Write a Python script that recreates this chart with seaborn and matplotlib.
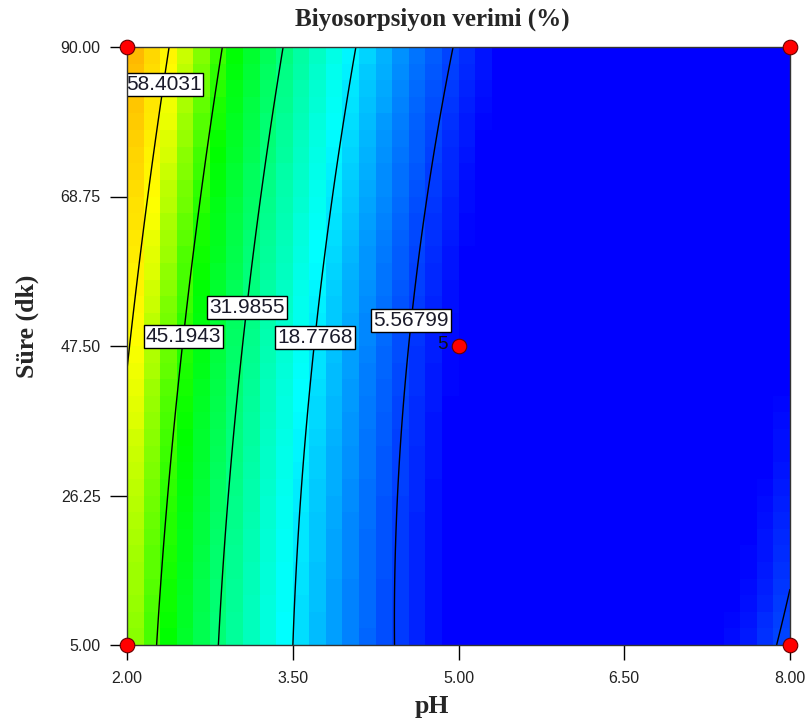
import numpy as np
import pandas as pd
import matplotlib
matplotlib.use("Agg")
import matplotlib.pyplot as plt
from matplotlib.colors import LinearSegmentedColormap
import seaborn as sns

# ---------------- data ----------------
title = "Biyosorpsiyon verimi (%)"
x_label = "pH"
y_label = "Süre (dk)"

ph_ticks = [2.00, 3.50, 5.00, 6.50, 8.00]
time_ticks = [5.00, 26.25, 47.50, 68.75, 90.00]

contour_levels = [5.56799, 18.7768, 31.9855, 45.1943, 58.4031]
# label anchor points (pH, time) for each contour label
label_ph = [4.53, 3.66, 3.07, 2.52, 2.37]
label_time = [51.2, 48.8, 53.0, 48.8, 84.6]

# Y = b0 + bx*pH + bt*t + bxt*pH*t + bxx*pH^2 + btt*t^2
model_terms = ["b0", "bx", "bt", "bxt", "bxx", "btt"]
model_coefs = [118.78, -40.093, 0.2026, -0.050165, 3.28, 0.001112]

# colour scale: response value at each colour stop
color_stop_values = [0.5, 20.0, 42.5, 57.0, 94.5]
color_stop_colors = ["#0000ff", "#00ffff", "#00ff00", "#ffff00", "#ff0000"]

# design points
design_ph = [2.0, 8.0, 2.0, 8.0, 5.0]
design_time = [90.0, 90.0, 5.0, 5.0, 47.5]
design_reps = [1, 1, 1, 1, 5]

# ---------------- style ----------------
sns.set_theme(style="white")
plt.rcParams["font.family"] = ["Liberation Sans", "DejaVu Sans"]

coef = dict(zip(model_terms, model_coefs))


def response(ph, t):
    return (coef["b0"] + coef["bx"] * ph + coef["bt"] * t + coef["bxt"] * ph * t
            + coef["bxx"] * ph ** 2 + coef["btt"] * t ** 2)


xmin, xmax = ph_ticks[0], ph_ticks[-1]
ymin, ymax = time_ticks[0], time_ticks[-1]

fig = plt.figure(figsize=(8.1, 7.24), dpi=100)
ax = fig.add_axes([127 / 810, 1 - 645 / 724, 663 / 810, 598 / 724])

# colour map built from the stop values
vmin, vmax = color_stop_values[0], color_stop_values[-1]
stops = [(v - vmin) / (vmax - vmin) for v in color_stop_values]
cmap = LinearSegmentedColormap.from_list("de", list(zip(stops, color_stop_colors)))

# blocky colour cells like the reference
ncol, nrow = 40, 36
xe = np.linspace(xmin, xmax, ncol + 1)
ye = np.linspace(ymin, ymax, nrow + 1)
xc = 0.5 * (xe[:-1] + xe[1:])
yc = 0.5 * (ye[:-1] + ye[1:])
XC, YC = np.meshgrid(xc, yc)
ax.pcolormesh(xe, ye, response(XC, YC), cmap=cmap, vmin=vmin, vmax=vmax,
              shading="flat", zorder=1)

# contour lines
xf = np.linspace(xmin, xmax, 300)
yf = np.linspace(ymin, ymax, 300)
XF, YF = np.meshgrid(xf, yf)
cs = ax.contour(XF, YF, response(XF, YF), levels=contour_levels,
                colors="black", linewidths=1.0, zorder=2)
labels = ax.clabel(cs, inline=False, fmt="%g", fontsize=15,
                   manual=list(zip(label_ph, label_time)))
for txt in labels:
    txt.set_rotation(0)
    txt.set_color("#1a1a2a")
    txt.set_zorder(4)
    txt.set_bbox(dict(boxstyle="square,pad=0.1", facecolor="white",
                      edgecolor="black", linewidth=1.0))

# design points
df = pd.DataFrame({"pH": design_ph, "t": design_time, "n": design_reps})
sns.scatterplot(data=df, x="pH", y="t", ax=ax, s=110, color="#ff0000",
                edgecolor="#660000", linewidth=0.8, clip_on=False, zorder=6,
                legend=False)
for _, r in df.iterrows():
    if r["n"] > 1:
        ax.annotate(str(int(r["n"])), (r["pH"], r["t"]), xytext=(-11.5, 1),
                    textcoords="offset points", ha="center", va="center",
                    fontsize=13.5, color="#111111", zorder=6)

ax.set_xlim(xmin, xmax)
ax.set_ylim(ymin, ymax)
ax.set_xticks(ph_ticks)
ax.set_yticks(time_ticks)
ax.set_xticklabels([f"{v:.2f}" for v in ph_ticks])
ax.set_yticklabels([f"{v:.2f}" for v in time_ticks])
ax.tick_params(axis="x", direction="out", length=11, width=1, color="black",
               pad=8, labelsize=11.5, labelcolor="#222222", bottom=True)
ax.tick_params(axis="y", direction="out", length=12, width=1, color="black",
               pad=7, labelsize=11.5, labelcolor="#222222", left=True)
ax.set_xlabel("")
ax.set_ylabel("")
for sp in ax.spines.values():
    sp.set_color("#333333")
    sp.set_linewidth(1.0)
    sp.set_zorder(5)

fig.text(432 / 810, 1 - 19 / 724, title, ha="center", va="center",
         fontsize=18, fontweight="bold", family=["Liberation Serif"])
fig.text(432 / 810, 1 - 706 / 724, x_label, ha="center", va="center",
         fontsize=18.5, fontweight="bold", family=["Liberation Serif"])
fig.text(27 / 810, 1 - 326 / 724, y_label, ha="center", va="center",
         rotation=90, fontsize=18.5, fontweight="bold",
         family=["Liberation Serif"])

fig.savefig("out.png", dpi=100, facecolor="white")
